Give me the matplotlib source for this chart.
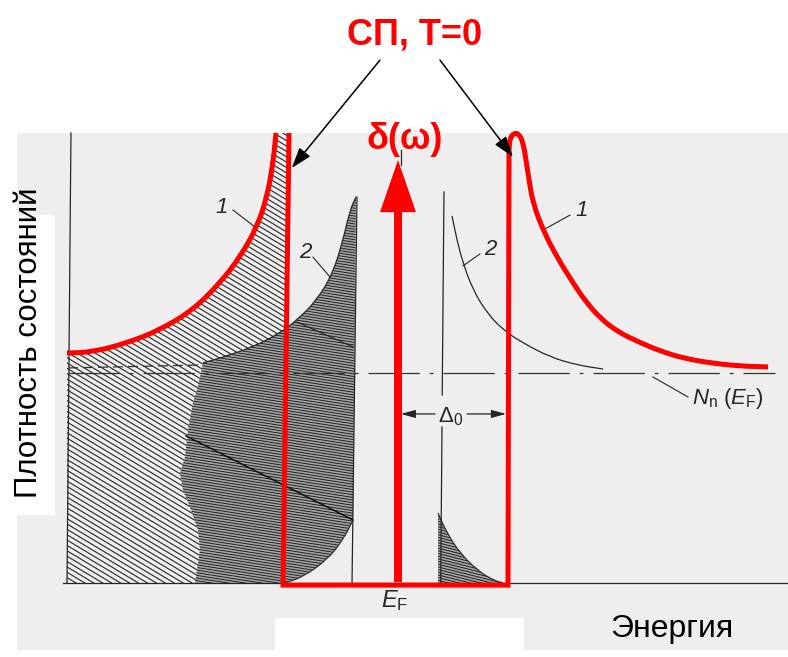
import numpy as np
import matplotlib
matplotlib.use("Agg")
import matplotlib.pyplot as plt
from matplotlib.patches import Rectangle, FancyArrow, PathPatch
from matplotlib.collections import LineCollection
from matplotlib.path import Path

plt.rcParams['font.family'] = ['Liberation Sans', 'DejaVu Sans']
plt.rcParams['mathtext.fontset'] = 'custom'
plt.rcParams['mathtext.rm'] = 'Liberation Sans'
plt.rcParams['mathtext.it'] = 'Liberation Sans:italic'

# energy in units of gap (E_F = 0), density of states in units of N_n(E_F)
# curve 1 (BCS, T=0), left branch
dos1_left_e = [-3.009, -2.773, -2.464, -2.164, -1.864, -1.618, -1.436, -1.282, -1.191, -1.136, -1.109]
dos1_left_n = [1.095, 1.100, 1.143, 1.205, 1.300, 1.429, 1.552, 1.695, 1.838, 2.000, 2.143]

# gap edges of the T=0 spectrum
gap_e = [-0.991, -1.045, 1.000, 1.009]
gap_n = [2.143, -0.010, -0.010, 2.062]

# curve 1, right branch
dos1_right_e = [1.009, 1.018, 1.055, 1.100, 1.136, 1.164, 1.191, 1.227, 1.318, 1.445, 1.591,
                1.700, 1.836, 2.000, 2.200, 2.382, 2.591, 2.836, 3.109, 3.364]
dos1_right_n = [2.062, 2.119, 2.143, 2.138, 2.100, 2.014, 1.919, 1.810, 1.681, 1.552, 1.429,
                1.345, 1.262, 1.195, 1.145, 1.105, 1.071, 1.048, 1.033, 1.029]

# curve 2 (finite temperature), left branch and its lower tail
dos2_left_e = [-1.773, -1.618, -1.318, -1.073, -0.918, -0.736, -0.591, -0.500, -0.436, -0.382]
dos2_left_n = [1.048, 1.071, 1.124, 1.190, 1.252, 1.348, 1.476, 1.633, 1.776, 1.838]
dos2_tail_e = [-0.409, -0.500, -0.645, -0.864, -1.027]
dos2_tail_n = [0.300, 0.205, 0.110, 0.029, 0.000]
dos2_dash_e = [-3.000, -1.800]
dos2_dash_n = [1.024, 1.038]

# curve 2, right branch
dos2_right_e = [0.491, 0.536, 0.591, 0.682, 0.809, 0.955, 1.136, 1.382, 1.627, 1.864]
dos2_right_n = [1.748, 1.633, 1.524, 1.395, 1.286, 1.205, 1.143, 1.076, 1.038, 1.019]

# occupied quasiparticle states above the gap
occ_right_e = [0.364, 0.445, 0.564, 0.718, 0.864, 0.955]
occ_right_n = [0.333, 0.238, 0.143, 0.062, 0.014, 0.000]

# left edge of the dark shading (curve 2 filled states)
shade_edge_e = [-1.845, -1.800, -1.818, -1.891, -1.955, -1.982, -1.936, -1.909, -1.864, -1.827, -1.800]
shade_edge_n = [0.000, 0.157, 0.252, 0.362, 0.443, 0.524, 0.600, 0.729, 0.857, 0.919, 0.981]

n_normal = 1.0
e_min, e_max = -3.009, 3.536
top = 2.143

RED = '#ff0000'
INK = '#262626'

fig = plt.figure(figsize=(7.88, 6.57), dpi=100)
ax = fig.add_axes([0, 0, 1, 1])
ax.set_xlim(-3.6182, 3.5455)
ax.set_ylim(-0.35238, 2.77619)
ax.axis('off')

# scanned panel background and the white masks
ax.add_patch(Rectangle((-3.464, -0.319), 7.01, 2.462, facecolor='#eeeeee', edgecolor='none', zorder=0))
ax.add_patch(Rectangle((-1.118, -0.36), 2.263, 0.193, facecolor='white', edgecolor='none', zorder=0.5))
ax.add_patch(Rectangle((-3.63, 0.324), 0.512, 1.428, facecolor='white', edgecolor='none', zorder=0.5))


def make_path(parts):
    """Chain (e, n, smooth) pieces into one Path; smooth pieces use quadratic Beziers."""
    verts, codes = [], []
    for e, n, smooth in parts:
        p = np.column_stack([e, n])
        verts.append(p[0])
        codes.append(Path.LINETO if codes else Path.MOVETO)
        if smooth and len(p) > 2:
            mids = (p[:-1] + p[1:]) / 2
            verts.append(mids[0])
            codes.append(Path.LINETO)
            for i in range(1, len(p) - 1):
                verts += [p[i], mids[i]]
                codes += [Path.CURVE3, Path.CURVE3]
            verts.append(p[-1])
            codes.append(Path.LINETO)
        else:
            for q in p[1:]:
                verts.append(q)
                codes.append(Path.LINETO)
    return Path(verts, codes)


def draw_path(parts, color, lw, z, **kw):
    patch = PathPatch(make_path(parts), facecolor='none', edgecolor=color, lw=lw, zorder=z, **kw)
    ax.add_patch(patch)
    return patch


def hatch(parts, angle, step, lw, color, face, z):
    path = make_path(parts)
    poly = PathPatch(path, facecolor=face, edgecolor='none', zorder=z)
    ax.add_patch(poly)
    px = ax.transData.transform(path.vertices)
    a = np.radians(angle)
    d = np.array([np.cos(a), -np.sin(a)])
    nrm = np.array([np.sin(a), np.cos(a)])
    proj = px @ nrm
    along = px @ d
    inv = ax.transData.inverted()
    segs = []
    for c in np.arange(proj.min(), proj.max(), step):
        p0 = c * nrm + (along.min() - 5) * d
        p1 = c * nrm + (along.max() + 5) * d
        segs.append(inv.transform(np.array([p0, p1])))
    lc = LineCollection(segs, colors=color, linewidths=lw, zorder=z)
    lc.set_clip_path(poly)
    ax.add_collection(lc)


# light hatching under curve 1
hatch([([e_min], [0.0], False),
       (dos1_left_e, dos1_left_n, True),
       ([-0.975, -1.03], [top, 0.0], False)],
      31, 4.6, 0.8, INK, '#eeeeee', 1)

# dark hatching under curve 2
hatch([(shade_edge_e, shade_edge_n, False),
       (dos2_left_e, dos2_left_n, True),
       (dos2_tail_e, dos2_tail_n, True)],
      9, 2.6, 0.65, '#1a1a1a', '#a4a4a4', 2)
hatch([([occ_right_e[0]], [0.0], False),
       (occ_right_e, occ_right_n, True)],
      14, 2.6, 0.65, '#1a1a1a', '#a4a4a4', 2)

# fold streaks across the dark shading
ax.plot([-1.927, -0.409], [0.700, 0.300], color='#111111', lw=1.1, zorder=2.5)
ax.plot([-0.918, -0.409], [1.243, 1.124], color='#222222', lw=0.8, zorder=2.5)

# axes of the original drawing
ax.plot([-3.009, -2.973], [0, top], color=INK, lw=0.9, zorder=3)
ax.plot([-3.045, e_max], [0, 0], color=INK, lw=0.9, zorder=3)
ax.plot([-3.0, 3.427], [n_normal, n_normal], color='#333333', lw=0.9,
        dashes=(41, 8, 3, 8), zorder=3)

# curve 2 outlines
draw_path([(dos2_left_e, dos2_left_n, True)], INK, 0.9, 3)
ax.plot(dos2_dash_e, dos2_dash_n, color='#333333', lw=0.9, dashes=(8, 4), zorder=3)
ax.plot([-0.373, -0.418], [1.838, 0.0], color=INK, lw=0.9, zorder=3)
draw_path([(dos2_tail_e, dos2_tail_n, True)], INK, 0.8, 3)
draw_path([(dos2_right_e, dos2_right_n, True)], INK, 0.9, 3)
draw_path([(occ_right_e, occ_right_n, True)], INK, 0.8, 3)
ax.plot([0.418, 0.402], [1.862, 0.895], color=INK, lw=0.9, zorder=3)
ax.plot([0.400, 0.388], [0.743, 0.0], color=INK, lw=0.9, zorder=3)
ax.plot([0.027, 0.027], [1.990, 2.062], color=INK, lw=0.9, zorder=3)

# gap width annotation
arrow_kw = dict(arrowstyle='-|>,head_length=0.8,head_width=0.22', color=INK, lw=0.9,
                shrinkA=0, shrinkB=0, mutation_scale=11)
ax.annotate('', xy=(0.025, 0.805), xytext=(0.336, 0.805), arrowprops=arrow_kw, zorder=3)
ax.annotate('', xy=(0.982, 0.805), xytext=(0.627, 0.805), arrowprops=arrow_kw, zorder=3)
ax.text(0.48, 0.79, r'$\mathit{\Delta}_{0}$', fontsize=16, color=INK, ha='center', va='center', zorder=3)

# curve labels with leaders
ax.plot([-1.5, -1.3], [1.776, 1.695], color=INK, lw=0.8, zorder=3)
ax.plot([-0.773, -0.618], [1.552, 1.457], color=INK, lw=0.8, zorder=3)
ax.plot([1.564, 1.336], [1.752, 1.686], color=INK, lw=0.8, zorder=3)
ax.plot([0.745, 0.591], [1.567, 1.510], color=INK, lw=0.8, zorder=3)
ax.plot([2.318, 2.636], [0.981, 0.886], color=INK, lw=0.8, zorder=3)
lab_kw = dict(fontsize=16, style='italic', color=INK, ha='center', va='center', zorder=3)
ax.text(-1.60, 1.786, '1', **lab_kw)
ax.text(-0.845, 1.576, '2', **lab_kw)
ax.text(1.673, 1.776, '1', **lab_kw)
ax.text(0.836, 1.586, '2', **lab_kw)
ax.text(3.0, 0.88, r'$N_{\mathrm{n}}\ (E_{\mathrm{F}})$', fontsize=16, color=INK,
        ha='center', va='center', zorder=3)
ax.text(-0.027, -0.085, r'$E_{\mathrm{F}}$', fontsize=17, color=INK, ha='center', va='center', zorder=3)

# red overlay: T=0 superconductor
draw_path([(dos1_left_e, dos1_left_n, True)], RED, 3.6, 5, capstyle='butt')
draw_path([(gap_e, gap_n, False), (dos1_right_e, dos1_right_n, True)], RED, 3.6, 5,
          joinstyle='miter', capstyle='butt')
ax.add_patch(FancyArrow(0.0, 0.005, 0, 2.009, width=0.0727, head_width=0.327, head_length=0.248,
                        length_includes_head=True, color=RED, lw=0, zorder=5))

ax.text(0.155, 2.562, 'СП, Т=0', fontsize=26, fontweight='bold', color=RED,
        ha='center', va='baseline', zorder=6)
ax.text(0.064, 2.110, 'δ(ω)', fontsize=26, fontweight='bold', color=RED,
        ha='center', va='center', zorder=6)
black_kw = dict(arrowstyle='-|>,head_length=0.9,head_width=0.3', color='black', lw=1.1,
                shrinkA=0, shrinkB=0, mutation_scale=14)
ax.annotate('', xy=(-0.966, 1.976), xytext=(-0.164, 2.490), arrowprops=black_kw, zorder=6)
ax.annotate('', xy=(1.045, 2.029), xytext=(0.382, 2.490), arrowprops=black_kw, zorder=6)

# axis titles
ax.text(-3.355, 1.143, 'Плотность состояний', fontsize=22.5, rotation=90,
        ha='center', va='center', color='black', zorder=6)
ax.text(2.491, -0.257, 'Энергия', fontsize=23, ha='center', va='baseline', color='black', zorder=6)

fig.savefig('out.png', dpi=100)
